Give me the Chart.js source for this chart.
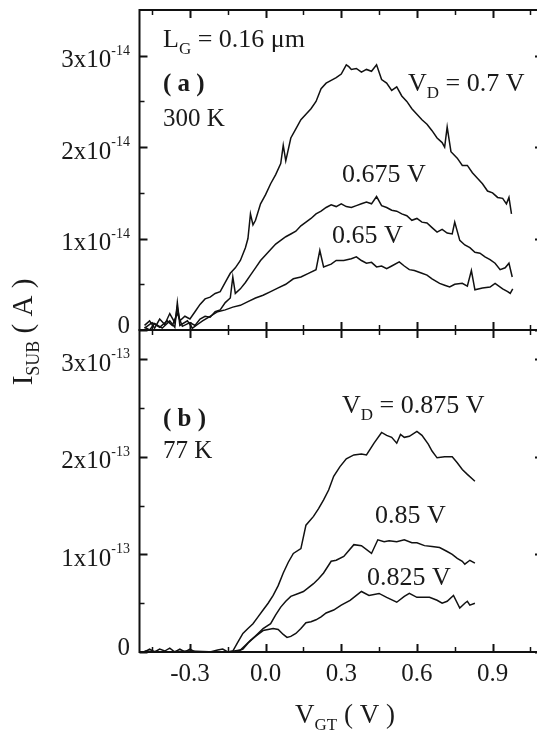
<!DOCTYPE html>
<html><head><meta charset="utf-8">
<script src="https://cdn.jsdelivr.net/npm/chart.js@4.4.1/dist/chart.umd.min.js"></script>
<style>
html,body{margin:0;padding:0;background:#fff;overflow:hidden;}
#wrap{position:relative;width:560px;height:734px;}
canvas{position:absolute;left:0;top:0;}
</style></head><body>
<div id="wrap"><canvas id="cb" width="560" height="734" style="width:560px;height:734px"></canvas><canvas id="ct" width="560" height="734" style="width:560px;height:734px"></canvas></div>
<script>
// ---------- DATA ----------
// Panel (a): 300 K, I_SUB in units of 1e-14 A
const vgtA07  = [-0.48,-0.46,-0.44,-0.42,-0.40,-0.38,-0.36,-0.35,-0.34,-0.32,-0.30,-0.28,-0.26,-0.24,-0.22,-0.20,-0.18,-0.16,-0.14,-0.12,-0.10,-0.08,-0.07,-0.06,-0.05,-0.04,-0.02,0.00,0.02,0.04,0.06,0.07,0.08,0.10,0.12,0.14,0.16,0.18,0.20,0.22,0.24,0.26,0.28,0.30,0.32,0.33,0.34,0.36,0.38,0.40,0.42,0.44,0.46,0.48,0.50,0.52,0.54,0.56,0.58,0.60,0.62,0.64,0.66,0.68,0.70,0.71,0.72,0.735,0.76,0.78,0.80,0.82,0.84,0.86,0.88,0.90,0.92,0.94,0.955,0.965,0.975];
const isubA07 = [0.05,0.10,0.02,0.12,0.06,0.18,0.08,0.25,0.10,0.15,0.12,0.20,0.28,0.34,0.36,0.40,0.42,0.52,0.62,0.68,0.76,0.90,1.00,1.27,1.15,1.20,1.38,1.48,1.60,1.70,1.82,2.02,1.85,2.10,2.20,2.30,2.36,2.42,2.50,2.64,2.70,2.73,2.76,2.80,2.90,2.88,2.85,2.86,2.82,2.85,2.83,2.90,2.74,2.70,2.62,2.66,2.56,2.50,2.42,2.36,2.30,2.25,2.18,2.10,2.05,2.00,2.22,1.95,1.88,1.80,1.80,1.72,1.66,1.60,1.52,1.50,1.45,1.44,1.38,1.45,1.27];
const vgtA0675  = [-0.48,-0.45,-0.42,-0.39,-0.37,-0.35,-0.33,-0.30,-0.28,-0.26,-0.24,-0.22,-0.20,-0.18,-0.16,-0.14,-0.13,-0.12,-0.10,-0.08,-0.06,-0.04,-0.02,0.00,0.02,0.04,0.06,0.08,0.10,0.12,0.14,0.16,0.18,0.20,0.22,0.24,0.26,0.28,0.30,0.32,0.34,0.36,0.38,0.40,0.42,0.44,0.46,0.48,0.50,0.52,0.54,0.56,0.58,0.60,0.62,0.64,0.66,0.68,0.70,0.72,0.74,0.75,0.77,0.79,0.81,0.83,0.85,0.87,0.89,0.91,0.93,0.95,0.965,0.978];
const isubA0675 = [0.02,0.08,0.03,0.10,0.05,0.18,0.04,0.08,0.05,0.12,0.15,0.14,0.20,0.22,0.30,0.35,0.58,0.40,0.45,0.52,0.60,0.68,0.76,0.82,0.88,0.94,0.98,1.02,1.05,1.08,1.14,1.18,1.22,1.27,1.30,1.34,1.37,1.35,1.38,1.35,1.34,1.36,1.38,1.40,1.38,1.46,1.36,1.34,1.31,1.30,1.27,1.25,1.20,1.22,1.18,1.17,1.12,1.07,1.10,1.06,1.05,1.18,0.98,0.93,0.90,0.85,0.84,0.80,0.77,0.73,0.66,0.68,0.73,0.58];
const vgtA065  = [-0.48,-0.46,-0.44,-0.41,-0.38,-0.36,-0.35,-0.34,-0.31,-0.29,-0.27,-0.25,-0.22,-0.19,-0.16,-0.13,-0.10,-0.07,-0.04,-0.01,0.02,0.05,0.08,0.11,0.14,0.17,0.20,0.215,0.23,0.26,0.28,0.31,0.34,0.36,0.38,0.40,0.42,0.44,0.46,0.48,0.50,0.53,0.55,0.57,0.59,0.62,0.64,0.66,0.69,0.71,0.73,0.75,0.78,0.80,0.816,0.83,0.86,0.89,0.91,0.94,0.96,0.97,0.98];
const isubA065 = [0.03,0.00,0.07,0.02,0.10,0.03,0.30,0.05,0.10,0.02,0.06,0.10,0.15,0.20,0.22,0.25,0.27,0.31,0.35,0.38,0.42,0.46,0.50,0.56,0.58,0.62,0.66,0.87,0.69,0.72,0.76,0.76,0.78,0.80,0.76,0.73,0.74,0.69,0.70,0.67,0.70,0.745,0.70,0.66,0.65,0.62,0.60,0.56,0.51,0.49,0.47,0.50,0.51,0.48,0.65,0.44,0.46,0.47,0.51,0.45,0.42,0.40,0.45];

// Panel (b): 77 K, I_SUB in units of 1e-13 A
const vgtB0875  = [-0.48,-0.46,-0.44,-0.42,-0.40,-0.38,-0.36,-0.34,-0.32,-0.30,-0.28,-0.22,-0.19,-0.17,-0.15,-0.13,-0.11,-0.09,-0.07,-0.05,-0.03,-0.01,0.01,0.03,0.05,0.07,0.09,0.11,0.14,0.16,0.19,0.21,0.23,0.25,0.27,0.295,0.32,0.35,0.38,0.40,0.43,0.46,0.48,0.50,0.52,0.535,0.55,0.57,0.60,0.62,0.645,0.66,0.68,0.71,0.74,0.76,0.78,0.80,0.83];
const isubB0875 = [0.00,0.03,0.00,0.03,0.01,0.04,0.00,0.03,0.00,0.03,0.00,0.00,0.02,0.03,0.00,0.01,0.10,0.19,0.24,0.29,0.36,0.43,0.50,0.58,0.68,0.81,0.92,1.01,1.06,1.30,1.39,1.47,1.56,1.66,1.80,1.90,1.98,2.02,2.03,2.02,2.14,2.25,2.22,2.20,2.14,2.23,2.20,2.21,2.26,2.22,2.13,2.06,1.99,2.00,2.00,1.94,1.87,1.82,1.75];
const vgtB085  = [-0.48,-0.40,-0.30,-0.20,-0.12,-0.09,-0.07,-0.05,-0.03,-0.01,0.02,0.04,0.06,0.08,0.10,0.13,0.15,0.17,0.19,0.21,0.23,0.26,0.28,0.31,0.35,0.38,0.42,0.445,0.47,0.49,0.52,0.55,0.58,0.60,0.63,0.66,0.69,0.72,0.74,0.76,0.78,0.79,0.81,0.83];
const isubB085 = [0.01,0.00,0.01,0.00,0.00,0.03,0.09,0.14,0.19,0.24,0.29,0.38,0.46,0.52,0.57,0.60,0.62,0.66,0.70,0.75,0.81,0.93,0.94,0.98,1.10,1.09,1.01,1.15,1.13,1.14,1.13,1.15,1.12,1.12,1.09,1.08,1.07,1.03,1.00,0.96,0.93,0.90,0.94,0.91];
const vgtB0825  = [-0.48,-0.30,-0.15,-0.10,-0.08,-0.06,-0.03,-0.01,0.01,0.03,0.05,0.07,0.085,0.10,0.12,0.14,0.16,0.18,0.20,0.22,0.24,0.27,0.30,0.335,0.36,0.38,0.41,0.45,0.48,0.52,0.55,0.57,0.60,0.65,0.68,0.70,0.72,0.745,0.77,0.79,0.80,0.81,0.83];
const isubB0825 = [0.00,0.00,0.00,0.02,0.07,0.12,0.18,0.22,0.23,0.24,0.23,0.18,0.15,0.16,0.19,0.24,0.30,0.31,0.33,0.36,0.40,0.43,0.48,0.53,0.58,0.62,0.58,0.60,0.56,0.51,0.57,0.60,0.56,0.56,0.53,0.50,0.52,0.58,0.45,0.50,0.52,0.48,0.50];

// Tick labels
const xTickValues = [-0.3, 0.0, 0.3, 0.6, 0.9];
const xTickLabels = ['-0.3', '0.0', '0.3', '0.6', '0.9'];
const yTickValuesA = [0, 1, 2, 3];
const yTickMantA = ['0', '1x10', '2x10', '3x10'];
const yTickExpA  = ['', '-14', '-14', '-14'];
const yTickValuesB = [0, 1, 2, 3];
const yTickMantB = ['0', '1x10', '2x10', '3x10'];
const yTickExpB  = ['', '-13', '-13', '-13'];

// ---------- DRAWING ----------
const FONT = '"Liberation Serif", "Times New Roman", serif';
const INK = '#1a1a1a';
function setFont(ctx, s){ ctx.font = (s.bold ? 'bold ' : '') + s.size + 'px ' + FONT; }
function richWidth(ctx, segs){ let w = 0; for (const s of segs){ setFont(ctx, s); w += ctx.measureText(s.t).width; } return w; }
function drawRich(ctx, segs, x, y){
  ctx.textAlign = 'left'; ctx.textBaseline = 'alphabetic'; ctx.fillStyle = INK;
  for (const s of segs){ setFont(ctx, s); ctx.fillText(s.t, x, y + (s.dy || 0)); x += ctx.measureText(s.t).width; }
}
const pts = (xs, ys) => xs.map((v, i) => ({x: v, y: ys[i]}));
const ds = (xs, ys) => ({ data: pts(xs, ys), borderColor: '#111', borderWidth: 1.5, pointRadius: 0, tension: 0, fill: false });

function framePlugin(tickVals, minorVals, labelMant, labelExp, extra){
  return {
    id: 'frame',
    afterDraw(chart){
      const {ctx, chartArea: a, scales: {x, y}} = chart;
      ctx.save();
      ctx.strokeStyle = '#111';
      ctx.lineWidth = 2;
      ctx.strokeRect(a.left, a.top, a.right - a.left, a.bottom - a.top);
      // x ticks (major every 0.3, minor every 0.15)
      for (let k = -3; k <= 7; k++){
        const v = k * 0.15, px = Math.round(x.getPixelForValue(v)) + 0.5, major = (k % 2 === 0);
        const L = major ? 8 : 5;
        ctx.lineWidth = major ? 2 : 1.5;
        ctx.beginPath();
        ctx.moveTo(px, a.bottom); ctx.lineTo(px, a.bottom - L);
        ctx.moveTo(px, a.top); ctx.lineTo(px, a.top + L);
        ctx.stroke();
      }
      // y ticks
      const all = tickVals.map(v => [v, true]).concat(minorVals.map(v => [v, false]));
      for (const [v, major] of all){
        const py = Math.round(y.getPixelForValue(v)) + 0.5, L = major ? 8 : 5;
        ctx.lineWidth = major ? 2 : 1.5;
        ctx.beginPath();
        ctx.moveTo(a.left, py); ctx.lineTo(a.left + L, py);
        ctx.moveTo(a.right, py); ctx.lineTo(a.right - L, py);
        ctx.stroke();
      }
      // y tick labels with superscript exponents
      tickVals.forEach((v, i) => {
        const py = y.getPixelForValue(v);
        const segs = [{t: labelMant[i], size: 25}];
        if (labelExp[i]) segs.push({t: labelExp[i], size: 14, dy: -12.5});
        const w = richWidth(ctx, segs);
        drawRich(ctx, segs, 130 - w, py + (v === 0 ? 3 : 11.5));
      });
      if (extra) extra(ctx, chart);
      ctx.restore();
    }
  };
}

Chart.defaults.font.family = FONT;

// Top panel (a)
new Chart(document.getElementById('ct'), {
  type: 'line',
  data: { datasets: [ds(vgtA07, isubA07), ds(vgtA0675, isubA0675), ds(vgtA065, isubA065)] },
  options: {
    responsive: false, animation: false, devicePixelRatio: 1,
    layout: { padding: { left: 139.5, right: 17, top: 10, bottom: 404 } },
    plugins: { legend: { display: false }, tooltip: { enabled: false } },
    scales: {
      x: { type: 'linear', min: -0.5, max: 1.1, display: false },
      y: { type: 'linear', min: 0, max: 3.5, display: false }
    }
  },
  plugins: [framePlugin(yTickValuesA, [0.5, 1.5, 2.5], yTickMantA, yTickExpA, (ctx) => {
    drawRich(ctx, [{t: 'L', size: 26}, {t: 'G', size: 17, dy: 7}, {t: ' = 0.16 \u03bcm', size: 26}], 163, 47);
    drawRich(ctx, [{t: '( a )', size: 25, bold: true}], 163, 91);
    drawRich(ctx, [{t: '300 K', size: 25}], 163, 126);
    drawRich(ctx, [{t: 'V', size: 26}, {t: 'D', size: 17, dy: 7}, {t: ' = 0.7 V', size: 26}], 408, 91);
    drawRich(ctx, [{t: '0.675 V', size: 26}], 342, 182);
    drawRich(ctx, [{t: '0.65 V', size: 26}], 332, 243);
  })]
});

// Bottom panel (b)
new Chart(document.getElementById('cb'), {
  type: 'line',
  data: { datasets: [ds(vgtB0875, isubB0875), ds(vgtB085, isubB085), ds(vgtB0825, isubB0825)] },
  options: {
    responsive: false, animation: false, devicePixelRatio: 1,
    layout: { padding: { left: 139.5, right: 17, top: 330, bottom: 42 } },
    plugins: { legend: { display: false }, tooltip: { enabled: false } },
    scales: {
      x: {
        type: 'linear', min: -0.5, max: 1.1, display: true,
        grid: { display: false, drawTicks: false }, border: { display: false },
        afterBuildTicks: (s) => { s.ticks = xTickValues.map(v => ({ value: v })); },
        afterFit: (s) => { s.height = 40; },
        ticks: { autoSkip: false, maxRotation: 0, padding: 7, color: INK,
                 font: { size: 25, family: FONT },
                 callback: (val, i) => xTickLabels[i] }
      },
      y: { type: 'linear', min: 0, max: 3.3, display: false }
    }
  },
  plugins: [framePlugin(yTickValuesB, [0.5, 1.5, 2.5], yTickMantB, yTickExpB, (ctx) => {
    drawRich(ctx, [{t: '( b )', size: 25, bold: true}], 163, 426);
    drawRich(ctx, [{t: '77 K', size: 25}], 163, 458);
    drawRich(ctx, [{t: 'V', size: 26}, {t: 'D', size: 17, dy: 7}, {t: ' = 0.875 V', size: 26}], 342, 413);
    drawRich(ctx, [{t: '0.85 V', size: 26}], 375, 523);
    drawRich(ctx, [{t: '0.825 V', size: 26}], 367, 585);
    // x axis title
    drawRich(ctx, [{t: 'V', size: 27}, {t: 'GT', size: 17, dy: 7}, {t: ' ( V )', size: 27}], 295, 723);
    // y axis title (rotated)
    ctx.save();
    ctx.translate(32, 332);
    ctx.rotate(-Math.PI / 2);
    const segs = [{t: 'I', size: 29}, {t: 'SUB', size: 18, dy: 7}, {t: ' ( A )', size: 29}];
    const w = richWidth(ctx, segs);
    drawRich(ctx, segs, -w / 2, 0);
    ctx.restore();
  })]
});
</script>
</body></html>
